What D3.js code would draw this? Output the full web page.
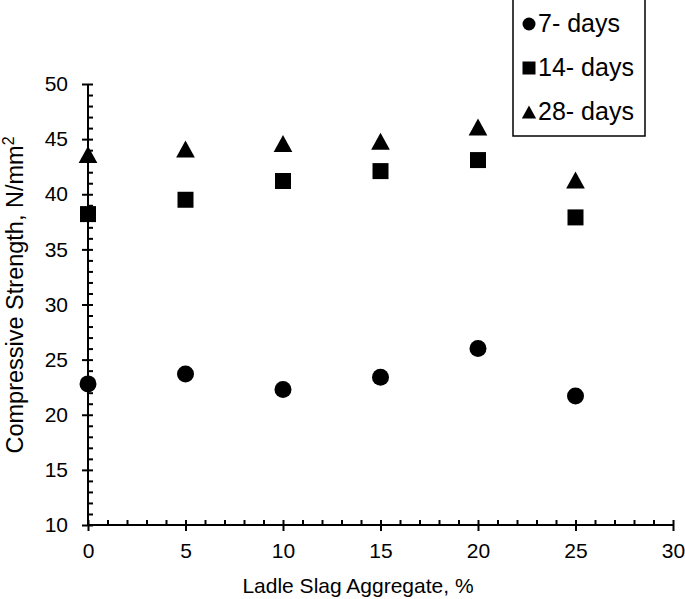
<!DOCTYPE html>
<html>
<head>
<meta charset="utf-8">
<script src="https://cdn.jsdelivr.net/npm/d3@7"></script>
<style>
  html, body { margin: 0; padding: 0; background: #fff; }
  svg { display: block; font-family: Arial, "Liberation Sans", Helvetica, sans-serif; }
</style>
</head>
<body>
<svg id="chart" width="685" height="599"></svg>
<script>
// ---- data ----
const slagPercent = [0, 5, 10, 15, 20, 25];
const days7  = [22.8, 23.7, 22.3, 23.4, 26.0, 21.7];
const days14 = [38.2, 39.5, 41.2, 42.1, 43.1, 37.9];
const days28 = [43.6, 44.1, 44.6, 44.8, 46.1, 41.3];
const seriesNames = ["7- days", "14- days", "28- days"];
const xTicks = [0, 5, 10, 15, 20, 25, 30];
const yTicks = [10, 15, 20, 25, 30, 35, 40, 45, 50];
const xTitle = "Ladle Slag Aggregate, %";
const yTitle = "Compressive Strength, N/mm";

const svg = d3.select("#chart");
const x = d3.scaleLinear().domain([0, 30]).range([88, 673]);
const y = d3.scaleLinear().domain([10, 50]).range([525, 84]);

const shapes = ["circle", "square", "triangle"];
function markerPath(shape, s) {
  const p = d3.path();
  if (shape === "circle") { p.arc(0, 0, s / 2, 0, 2 * Math.PI); }
  else if (shape === "square") { p.rect(-s / 2, -s / 2, s, s); }
  else { const w = s * 1.1, h = s; p.moveTo(0, -h / 2); p.lineTo(w / 2, h / 2); p.lineTo(-w / 2, h / 2); p.closePath(); }
  return p.toString();
}

// ---- axes ----
const minorX = d3.range(0, 31, 1).filter(v => v % 5 !== 0);
const minorY = d3.range(10, 51, 1).filter(v => v % 5 !== 0);

const gx = svg.append("g").attr("transform", `translate(0,${y(10)})`);
gx.call(d3.axisBottom(x).tickValues(xTicks).tickSize(6).tickPadding(12).tickFormat(d3.format("d")));
gx.selectAll(".tick line").attr("y1", -5).attr("y2", 6);
const gxm = svg.append("g").attr("transform", `translate(0,${y(10)})`);
gxm.call(d3.axisTop(x).tickValues(minorX).tickSize(5).tickFormat(""));
gxm.select(".domain").remove();

const gy = svg.append("g").attr("transform", `translate(${x(0)},0)`);
gy.call(d3.axisLeft(y).tickValues(yTicks).tickSize(6).tickPadding(14).tickFormat(d3.format("d")));
gy.selectAll(".tick line").attr("x1", 5).attr("x2", -6);
const gym = svg.append("g").attr("transform", `translate(${x(0)},0)`);
gym.call(d3.axisRight(y).tickValues(minorY).tickSize(5).tickFormat(""));
gym.select(".domain").remove();

svg.selectAll(".domain").attr("stroke", "#000").attr("stroke-width", 2);
svg.selectAll(".tick line").attr("stroke", "#000").attr("stroke-width", 2);
svg.selectAll(".tick text").attr("fill", "#000").attr("font-size", 21);
gx.selectAll(".domain").attr("d", `M${x(0)},0H${x(30)}`);
gy.selectAll(".domain").attr("d", `M0,${y(10)}V${y(50)}`);

// ---- titles ----
svg.append("text").attr("x", 358).attr("y", 593)
  .attr("text-anchor", "middle").attr("font-size", 21).attr("fill", "#000").text(xTitle);
const yt = svg.append("text").attr("transform", `translate(23,${295}) rotate(-90)`)
  .attr("text-anchor", "middle").attr("font-size", 23.5).attr("fill", "#000");
yt.append("tspan").text(yTitle);
yt.append("tspan").attr("dy", -9).attr("font-size", 16).text("2");

// ---- points ----
const allSeries = [days7, days14, days28];
const sizes = [17, 16, 17];
allSeries.forEach((vals, i) => {
  svg.append("g").selectAll("path").data(vals).join("path")
    .attr("d", markerPath(shapes[i], sizes[i]))
    .attr("transform", (d, j) => `translate(${x(slagPercent[j])},${y(d)})`)
    .attr("fill", "#000");
});

// ---- legend ----
const lg = svg.append("g");
lg.append("rect").attr("x", 513).attr("y", -2).attr("width", 132).attr("height", 138)
  .attr("fill", "#fff").attr("stroke", "#000").attr("stroke-width", 1.5);
const rowsY = [24, 68, 112];
seriesNames.forEach((name, i) => {
  lg.append("path").attr("d", markerPath(shapes[i], 13)).attr("transform", `translate(529,${rowsY[i]})`).attr("fill", "#000");
  lg.append("text").attr("x", 538).attr("y", rowsY[i] + 8).attr("font-size", 25).attr("fill", "#000").text(name);
});
</script>
</body>
</html>
